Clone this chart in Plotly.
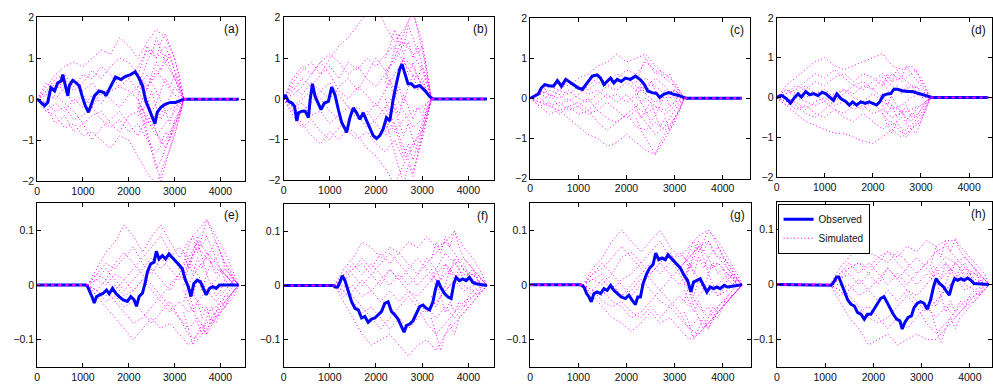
import plotly.graph_objects as go

# ---------------- tick labels ----------------
X_TICKS = [0, 1000, 2000, 3000, 4000]
X_TICK_TEXT = ["0", "1000", "2000", "3000", "4000"]
Y_TICKS_TOP = [-2, -1, 0, 1, 2]
Y_TICK_TEXT_TOP = ["\u22122", "\u22121", "0", "1", "2"]
Y_TICKS_BOT = [-0.1, 0, 0.1]
Y_TICK_TEXT_BOT = ["\u22120.1", "0", "0.1"]
PANEL_LABELS = ["(a)", "(b)", "(c)", "(d)", "(e)", "(f)", "(g)", "(h)"]

# ---------------- observed series ----------------
OBS_A_X = [0, 90, 160, 230, 300, 380, 450, 520, 560, 600, 670, 700, 775, 850, 920, 980, 1050, 1120, 1170, 1250,
           1350, 1460, 1500, 1570, 1640, 1710, 1830, 1930, 2040, 2140, 2225, 2300, 2370, 2440, 2500, 2570, 2620,
           2700, 2800, 2910, 3020, 3110, 3200, 4400]
OBS_A_Y = [0, -0.08, -0.16, -0.08, 0.28, 0.2, 0.4, 0.44, 0.6, 0.4, 0.08, 0.32, 0.46, 0.4, 0.32, 0.08, -0.16, -0.32,
           -0.16, 0.08, 0.2, 0.16, 0.08, 0.24, 0.4, 0.54, 0.48, 0.56, 0.6, 0.67, 0.51, 0.32, -0.04, -0.24, -0.4, -0.6,
           -0.32, -0.2, -0.12, -0.08, -0.08, -0.04, 0, 0]

OBS_B_X = [0, 36, 108, 180, 237, 287, 323, 395, 467, 539, 575, 625, 682, 754, 811, 883, 970, 1041, 1113, 1185,
           1257, 1314, 1364, 1436, 1508, 1580, 1652, 1723, 1795, 1867, 1939, 2011, 2082, 2154, 2226, 2298, 2370,
           2441, 2513, 2564, 2621, 2693, 2765, 2837, 2944, 3052, 3160, 3232, 4400]
OBS_B_Y = [0, 0.1, -0.06, -0.1, -0.18, -0.54, -0.34, -0.3, -0.3, -0.46, -0.02, 0.37, 0.06, -0.1, -0.26, -0.1,
           -0.06, 0.29, 0.1, -0.26, -0.58, -0.7, -0.82, -0.46, -0.22, -0.34, -0.5, -0.34, -0.54, -0.7, -0.9, -0.97,
           -0.9, -0.74, -0.46, -0.54, -0.02, 0.37, 0.73, 0.85, 0.61, 0.37, 0.37, 0.29, 0.33, 0.21, 0.06, 0, 0]

OBS_C_X = [0, 83, 166, 234, 303, 393, 483, 566, 648, 738, 841, 910, 993, 1083, 1152, 1221, 1290, 1393, 1462, 1531,
           1600, 1669, 1738, 1807, 1890, 1979, 2083, 2186, 2290, 2372, 2441, 2531, 2621, 2690, 2772, 2876, 2979,
           3083, 3186, 3255, 4400]
OBS_C_Y = [0, 0.06, 0.1, 0.26, 0.34, 0.31, 0.3, 0.44, 0.3, 0.47, 0.38, 0.34, 0.26, 0.22, 0.34, 0.46, 0.55, 0.58,
           0.5, 0.34, 0.42, 0.5, 0.38, 0.47, 0.42, 0.5, 0.47, 0.55, 0.46, 0.34, 0.18, 0.14, 0.12, 0.02, 0.1, 0.14,
           0.1, 0.07, 0.02, 0, 0]

OBS_D_X = [0, 103, 206, 289, 378, 447, 515, 605, 687, 770, 859, 948, 1017, 1100, 1182, 1251, 1340, 1430, 1512, 1581,
           1663, 1753, 1842, 1924, 2007, 2076, 2144, 2213, 2302, 2371, 2440, 2509, 2612, 2715, 2818, 2942, 3058,
           3162, 3230, 4400]
OBS_D_Y = [0, 0.05, -0.03, -0.14, 0.01, 0.09, 0.01, 0.15, 0.07, 0.1, 0.05, 0.13, 0.1, 0.01, -0.07, 0.09, -0.03,
           -0.09, -0.19, -0.11, -0.19, -0.11, -0.15, -0.11, -0.15, -0.19, -0.11, 0.05, 0.09, 0.1, 0.21, 0.21, 0.17,
           0.15, 0.15, 0.1, 0.07, 0.02, 0, 0]

OBS_E_X = [0, 1065, 1101, 1152, 1210, 1246, 1297, 1370, 1442, 1514, 1572, 1645, 1717, 1790, 1877, 1971, 2043, 2116,
           2167, 2225, 2297, 2355, 2406, 2478, 2551, 2601, 2659, 2732, 2804, 2877, 2949, 3022, 3109, 3167, 3225,
           3297, 3355, 3420, 3493, 3565, 3638, 3688, 3761, 3833, 3906, 3978, 4072, 4400]
OBS_E_Y = [0, 0, -0.003, -0.012, -0.024, -0.033, -0.021, -0.018, -0.015, -0.009, -0.016, -0.006, -0.015, -0.021,
           -0.027, -0.03, -0.021, -0.027, -0.039, -0.021, -0.015, 0.003, 0.024, 0.039, 0.042, 0.062, 0.048, 0.054,
           0.048, 0.057, 0.051, 0.045, 0.036, 0.03, 0.012, -0.003, -0.021, 0.003, 0.009, 0.006, -0.009, -0.018,
           -0.006, -0.003, -0.006, 0, 0, 0]

OBS_F_X = [0, 1077, 1113, 1171, 1221, 1271, 1329, 1400, 1472, 1544, 1616, 1688, 1759, 1831, 1903, 1975, 2047, 2119,
           2190, 2262, 2334, 2406, 2477, 2549, 2607, 2657, 2729, 2801, 2873, 2944, 3016, 3088, 3160, 3232, 3282,
           3339, 3397, 3483, 3555, 3626, 3684, 3734, 3806, 3878, 3950, 4021, 4093, 4165, 4400]
OBS_F_Y = [0, 0, -0.003, -0.003, 0.006, 0.018, 0.009, -0.009, -0.03, -0.042, -0.045, -0.06, -0.057, -0.068, -0.062,
           -0.06, -0.054, -0.048, -0.033, -0.03, -0.048, -0.054, -0.062, -0.074, -0.086, -0.074, -0.071, -0.065,
           -0.051, -0.039, -0.036, -0.042, -0.045, -0.03, -0.009, 0.009, -0.003, -0.015, -0.021, -0.024, 0.003,
           0.015, 0.009, 0.012, 0.009, 0.015, 0.006, 0.003, 0]

OBS_G_X = [0, 1048, 1117, 1172, 1221, 1269, 1324, 1393, 1462, 1531, 1600, 1669, 1738, 1807, 1890, 1979, 2048, 2117,
           2186, 2234, 2290, 2345, 2414, 2483, 2552, 2607, 2669, 2738, 2807, 2862, 2924, 2993, 3062, 3117, 3186,
           3269, 3338, 3393, 3462, 3531, 3600, 3669, 3738, 3807, 3876, 3945, 4028, 4097, 4400]
OBS_G_Y = [0, 0, -0.004, -0.016, -0.022, -0.031, -0.016, -0.013, -0.016, -0.007, -0.01, -0.001, -0.01, -0.016,
           -0.022, -0.025, -0.019, -0.028, -0.036, -0.022, -0.022, 0.002, 0.019, 0.031, 0.037, 0.058, 0.046, 0.049,
           0.046, 0.055, 0.049, 0.043, 0.037, 0.031, 0.019, 0.008, -0.013, 0.005, 0.008, 0.011, -0.001, -0.013,
           -0.004, -0.007, -0.004, -0.007, -0.001, -0.004, 0]

OBS_H_X = [0, 1080, 1128, 1183, 1238, 1285, 1340, 1402, 1470, 1538, 1607, 1675, 1744, 1812, 1880, 1949, 2017, 2085,
           2154, 2222, 2277, 2345, 2414, 2482, 2550, 2598, 2653, 2721, 2790, 2844, 2913, 2981, 3050, 3118, 3186,
           3248, 3303, 3371, 3453, 3521, 3576, 3631, 3685, 3747, 3815, 3884, 3952, 4021, 4089, 4400]
OBS_H_Y = [0, 0, -0.001, 0.005, 0.014, 0.014, 0.002, -0.01, -0.028, -0.036, -0.039, -0.051, -0.054, -0.063, -0.054,
           -0.054, -0.045, -0.034, -0.025, -0.022, -0.031, -0.045, -0.054, -0.063, -0.066, -0.081, -0.069, -0.06,
           -0.057, -0.042, -0.034, -0.031, -0.034, -0.045, -0.028, -0.004, 0.011, 0.002, -0.004, -0.013, -0.019,
           -0.001, 0.011, 0.008, 0.011, 0.008, 0.012, 0.008, 0.002, 0]

# ---------------- simulated series ----------------
SIM_X_TOP = [0, 200, 400, 600, 800, 1000, 1200, 1400, 1600, 1800, 2000, 2200, 2400, 2600, 2800, 3000, 3200]
SIM_X_BOT = [1100, 1300, 1500, 1700, 1900, 2100, 2300, 2500, 2700, 2900, 3100, 3300, 3500, 3700, 3900, 4100, 4300, 4400]
DENSE_X_TOP = [2200, 2300, 2400, 2500, 2600, 2700, 2800, 2900, 3000, 3100, 3200]
DENSE_X_BOT = [3200, 3300, 3400, 3500, 3600, 3700, 3800, 3900, 4000, 4100, 4200, 4300, 4400]
FLAT_X_TOP = [3200, 4400]
FLAT_X_BOT = [0, 1100]

SIM_A = [
    [0, 0.3, 0.6, 0.8, 0.9, 0.8, 1.0, 1.2, 1.1, 1.5, 1.3, 1.0, 1.4, 1.7, 1.5, 1.0, 0],
    [0, -0.3, -0.4, -0.7, -0.6, -0.9, -0.8, -1.0, -1.2, -0.9, -1.0, -1.4, -1.8, -2.1, -1.5, -0.9, 0],
    [0, 0.2, 0.0, 0.3, 0.5, 0.2, 0.4, 0.1, 0.3, 0.6, 0.5, 0.8, 1.2, 1.0, 1.3, 0.7, 0],
    [0, -0.1, -0.3, -0.2, -0.5, -0.4, -0.2, -0.5, -0.7, -0.5, -0.8, -0.6, -1.0, -1.3, -1.0, -0.6, 0],
    [0, 0.4, 0.2, 0.5, 0.2, 0.4, 0.7, 0.5, 0.8, 1.0, 0.9, 0.6, 0.3, 0.6, 0.9, 0.5, 0],
    [0, -0.2, -0.6, -0.4, -0.8, -0.6, -1.0, -0.7, -0.5, -0.3, -0.6, -0.9, -0.4, -0.8, -1.2, -0.7, 0],
    [0, 0.1, 0.4, 0.2, -0.1, 0.1, -0.2, 0.2, 0.0, -0.2, 0.1, 0.3, 0.6, 0.2, -0.3, -0.2, 0],
    [0, -0.3, -0.1, -0.3, 0.0, -0.2, 0.1, -0.1, 0.2, 0.3, 0.2, 0.0, -0.5, -0.9, -0.6, -0.3, 0],
    [0, 0.2, 0.5, 0.6, 0.3, 0.6, 0.5, 0.8, 0.6, 0.3, 0.5, 0.2, -0.2, -0.5, -0.2, 0.3, 0],
    [0, -0.1, 0.1, -0.1, -0.3, -0.6, -0.4, -0.3, -0.6, -0.8, -0.4, -0.3, 0.3, 0.7, 0.4, 0.1, 0],
]
SIM_B = [
    [0, 0.4, 0.7, 0.9, 0.6, 1.0, 1.3, 1.5, 1.8, 2.1, 2.3, 1.8, 1.4, 1.7, 2.1, 1.4, 0],
    [0, -0.3, -0.6, -0.9, -1.1, -0.8, -1.0, -0.7, -0.9, -1.2, -1.4, -1.7, -2.1, -1.6, -1.2, -0.6, 0],
    [0, 0.2, 0.5, 0.3, 0.6, 0.8, 0.5, 0.9, 0.7, 1.0, 0.8, 1.1, 1.3, 0.9, 0.6, 0.4, 0],
    [0, -0.2, -0.1, -0.4, -0.3, -0.6, -0.4, -0.2, -0.5, -0.3, -0.6, -0.9, -0.6, -1.2, -1.8, -1.0, 0],
    [0, 0.3, 0.1, 0.4, 0.2, 0.0, 0.3, 0.5, 0.2, 0.6, 1.0, 0.7, 0.9, 1.4, 1.1, 0.7, 0],
    [0, -0.4, -0.7, -0.5, -0.8, -1.0, -0.7, -0.5, -0.2, -0.4, -0.1, -0.4, -0.8, -0.5, -0.3, -0.2, 0],
    [0, 0.1, 0.3, 0.6, 0.9, 0.6, 0.2, 0.0, 0.3, 0.1, -0.2, 0.2, 0.6, 1.0, 0.8, 0.3, 0],
    [0, -0.1, -0.3, -0.1, 0.2, 0.4, 0.1, -0.2, -0.4, -0.7, -0.5, -0.2, 0.1, -0.3, -0.7, -0.5, 0],
    [0, 0.5, 0.8, 0.6, 0.9, 1.1, 0.9, 0.6, 0.8, 0.5, 0.3, 0.6, 1.0, 1.6, 2.2, 1.2, 0],
    [0, -0.2, 0.0, 0.2, 0.0, -0.3, -0.5, -0.8, -1.0, -0.8, -1.1, -1.3, -1.0, -1.5, -1.1, -0.8, 0],
]
SIM_C = [
    [0, 0.2, 0.3, 0.4, 0.3, 0.5, 0.6, 0.8, 0.9, 1.1, 0.9, 1.0, 1.1, 0.8, 0.6, 0.4, 0],
    [0, -0.2, -0.4, -0.3, -0.5, -0.7, -0.9, -1.0, -1.2, -1.1, -0.9, -1.1, -1.3, -1.4, -1.0, -0.6, 0],
    [0, 0.1, 0.0, 0.2, 0.1, 0.3, 0.2, 0.4, 0.3, 0.5, 0.7, 0.6, 0.9, 0.7, 0.5, 0.3, 0],
    [0, -0.1, -0.2, -0.1, -0.3, -0.2, -0.4, -0.3, -0.5, -0.6, -0.4, -0.7, -0.8, -0.6, -0.8, -0.5, 0],
    [0, 0.2, 0.1, 0.0, 0.2, 0.0, -0.1, 0.1, 0.3, 0.2, 0.4, 0.2, 0.5, 0.3, 0.1, 0.2, 0],
    [0, -0.1, 0.1, -0.2, 0.0, -0.2, 0.0, -0.3, -0.1, -0.3, -0.5, -0.3, -0.6, -0.9, -0.7, -0.3, 0],
    [0, 0.0, -0.2, -0.3, -0.2, -0.4, -0.3, -0.6, -0.8, -0.6, -0.4, -0.2, 0.0, -0.2, -0.4, -0.2, 0],
    [0, 0.1, 0.3, 0.2, 0.4, 0.3, 0.1, 0.2, 0.0, 0.1, -0.1, 0.1, 0.3, 0.5, 0.3, 0.0, 0],
    [0, -0.2, -0.1, -0.4, -0.2, -0.1, -0.3, -0.1, 0.1, -0.1, 0.1, -0.2, -0.4, -0.2, -0.3, -0.1, 0],
    [0, 0.1, 0.2, 0.1, -0.1, 0.1, 0.3, 0.5, 0.4, 0.6, 0.5, 0.3, 0.1, -0.1, 0.1, 0.2, 0],
]
SIM_D = [
    [0, 0.3, 0.5, 0.7, 0.9, 1.0, 0.8, 0.7, 0.8, 0.9, 1.0, 1.1, 0.8, 0.7, 0.8, 0.5, 0],
    [0, -0.2, -0.4, -0.6, -0.7, -0.8, -0.9, -0.9, -1.0, -1.1, -1.15, -1.0, -0.8, -1.0, -0.8, -0.5, 0],
    [0, 0.1, 0.3, 0.2, 0.4, 0.3, 0.5, 0.6, 0.4, 0.6, 0.5, 0.3, 0.6, 0.4, 0.6, 0.3, 0],
    [0, -0.1, -0.3, -0.2, -0.4, -0.5, -0.3, -0.5, -0.6, -0.4, -0.6, -0.8, -0.6, -0.9, -0.7, -0.4, 0],
    [0, 0.2, 0.0, 0.3, 0.1, 0.2, 0.0, 0.2, 0.1, 0.3, 0.2, 0.5, 0.3, 0.1, 0.3, 0.2, 0],
    [0, -0.2, -0.1, -0.3, -0.1, 0.0, -0.2, -0.1, -0.3, -0.2, -0.4, -0.3, -0.5, -0.4, -0.3, -0.2, 0],
    [0, 0.1, 0.2, 0.4, 0.6, 0.5, 0.7, 0.5, 0.3, 0.4, 0.2, 0.0, -0.2, -0.4, -0.6, -0.3, 0],
    [0, -0.1, 0.0, -0.1, -0.2, -0.1, 0.1, 0.2, 0.0, -0.1, 0.1, -0.1, -0.3, -0.2, 0.0, 0.1, 0],
    [0, 0.0, -0.2, -0.4, -0.5, -0.3, -0.1, 0.1, 0.3, 0.2, 0.4, 0.6, 0.4, 0.5, 0.3, 0.0, 0],
    [0, 0.2, 0.1, 0.0, 0.1, -0.1, -0.3, -0.4, -0.2, -0.3, -0.1, -0.4, -0.7, -0.5, -0.8, -0.6, 0],
]
SIM_E = [
    [0, 0.03, 0.06, 0.08, 0.11, 0.09, 0.06, 0.09, 0.11, 0.08, 0.05, 0.08, 0.10, 0.12, 0.09, 0.06, 0.02, 0],
    [0, -0.02, -0.04, -0.06, -0.08, -0.10, -0.08, -0.06, -0.08, -0.07, -0.09, -0.11, -0.09, -0.07, -0.05, -0.03, -0.01, 0],
    [0, 0.02, 0.04, 0.03, 0.05, 0.07, 0.04, 0.02, 0.05, 0.03, 0.01, 0.04, 0.07, 0.05, 0.08, 0.04, 0.01, 0],
    [0, -0.01, -0.03, -0.02, -0.04, -0.03, -0.05, -0.07, -0.05, -0.03, -0.06, -0.08, -0.06, -0.09, -0.06, -0.04, -0.02, 0],
    [0, 0.01, 0.00, 0.02, 0.01, -0.01, 0.01, 0.03, 0.01, -0.01, 0.02, 0.00, 0.03, 0.05, 0.03, 0.02, 0.00, 0],
    [0, -0.01, -0.02, 0.00, -0.02, -0.01, 0.01, -0.01, -0.03, -0.05, -0.03, -0.05, -0.03, -0.01, -0.03, -0.01, 0.01, 0],
    [0, 0.02, 0.01, 0.04, 0.06, 0.04, 0.02, 0.00, -0.02, 0.00, 0.02, 0.05, 0.08, 0.06, 0.04, 0.02, 0.00, 0],
    [0, -0.01, 0.01, -0.01, 0.01, 0.03, 0.05, 0.07, 0.09, 0.06, 0.03, 0.00, -0.03, -0.05, -0.04, -0.02, 0.00, 0],
    [0, 0.01, 0.03, 0.01, -0.01, 0.01, 0.03, 0.05, 0.03, 0.05, 0.07, 0.05, 0.02, -0.01, 0.01, 0.03, 0.01, 0],
    [0, -0.02, -0.01, -0.03, -0.05, -0.07, -0.06, -0.04, -0.02, -0.04, -0.06, -0.09, -0.10, -0.08, -0.06, -0.04, -0.01, 0],
]
SIM_F = [
    [0, 0.03, 0.05, 0.08, 0.07, 0.05, 0.07, 0.06, 0.08, 0.07, 0.09, 0.07, 0.08, 0.10, 0.07, 0.05, 0.02, 0],
    [0, -0.03, -0.06, -0.09, -0.11, -0.10, -0.09, -0.11, -0.13, -0.11, -0.10, -0.12, -0.09, -0.07, -0.05, -0.03, -0.01, 0],
    [0, 0.02, 0.03, 0.05, 0.03, 0.06, 0.04, 0.06, 0.04, 0.02, 0.05, 0.03, 0.06, 0.04, 0.05, 0.03, 0.01, 0],
    [0, -0.01, -0.03, -0.05, -0.04, -0.06, -0.08, -0.06, -0.08, -0.06, -0.04, -0.06, -0.04, -0.06, -0.04, -0.02, -0.01, 0],
    [0, 0.01, 0.02, 0.00, 0.02, 0.00, 0.03, 0.01, 0.03, 0.05, 0.03, 0.01, -0.01, 0.01, 0.03, 0.01, 0.00, 0],
    [0, -0.01, 0.00, -0.02, -0.01, -0.03, -0.01, -0.03, -0.01, -0.03, -0.05, -0.03, -0.01, 0.01, -0.01, 0.00, 0.01, 0],
    [0, 0.02, 0.04, 0.02, 0.04, 0.02, 0.00, 0.02, 0.00, 0.02, 0.04, 0.06, 0.08, 0.06, 0.03, 0.02, 0.00, 0],
    [0, 0.00, -0.02, -0.04, -0.06, -0.08, -0.06, -0.04, -0.02, -0.04, -0.07, -0.09, -0.07, -0.05, -0.03, -0.02, 0.00, 0],
    [0, 0.01, 0.03, 0.04, 0.02, 0.04, 0.06, 0.04, 0.02, 0.00, 0.02, 0.00, 0.02, 0.04, 0.02, 0.02, 0.01, 0],
    [0, -0.02, -0.01, 0.01, -0.01, 0.01, 0.03, 0.01, -0.01, -0.02, 0.00, 0.02, 0.04, 0.02, 0.00, -0.01, 0.00, 0],
]
SIM_G = [
    [0, 0.03, 0.05, 0.08, 0.10, 0.08, 0.06, 0.08, 0.10, 0.07, 0.05, 0.07, 0.09, 0.10, 0.08, 0.05, 0.02, 0],
    [0, -0.02, -0.04, -0.06, -0.07, -0.085, -0.07, -0.05, -0.07, -0.06, -0.08, -0.10, -0.09, -0.07, -0.05, -0.03, -0.01, 0],
    [0, 0.02, 0.04, 0.02, 0.05, 0.06, 0.04, 0.02, 0.04, 0.06, 0.03, 0.05, 0.07, 0.05, 0.07, 0.04, 0.01, 0],
    [0, -0.01, -0.03, -0.04, -0.03, -0.05, -0.06, -0.04, -0.06, -0.04, -0.06, -0.08, -0.06, -0.08, -0.05, -0.03, -0.01, 0],
    [0, 0.01, 0.00, 0.02, 0.00, -0.02, 0.00, 0.02, 0.04, 0.02, 0.00, 0.03, 0.05, 0.03, 0.04, 0.02, 0.00, 0],
    [0, -0.01, -0.02, 0.00, -0.02, -0.01, 0.01, -0.01, -0.03, -0.04, -0.02, -0.04, -0.02, 0.00, -0.02, -0.01, 0.01, 0],
    [0, 0.02, 0.03, 0.05, 0.07, 0.05, 0.03, 0.01, -0.01, 0.01, 0.03, 0.05, 0.07, 0.08, 0.05, 0.03, 0.00, 0],
    [0, -0.01, 0.01, -0.01, 0.01, 0.02, 0.04, 0.06, 0.08, 0.05, 0.02, -0.01, -0.04, -0.06, -0.04, -0.02, 0.00, 0],
    [0, 0.01, 0.02, 0.00, -0.02, 0.00, 0.02, 0.04, 0.02, 0.04, 0.06, 0.04, 0.01, -0.02, 0.00, 0.02, 0.01, 0],
    [0, -0.02, -0.01, -0.03, -0.04, -0.06, -0.05, -0.03, -0.01, -0.03, -0.05, -0.08, -0.09, -0.07, -0.05, -0.03, -0.01, 0],
]
SIM_H = [
    [0, 0.03, 0.05, 0.07, 0.06, 0.05, 0.06, 0.05, 0.07, 0.06, 0.08, 0.07, 0.08, 0.08, 0.06, 0.04, 0.02, 0],
    [0, -0.03, -0.06, -0.08, -0.11, -0.10, -0.09, -0.11, -0.10, -0.09, -0.10, -0.10, -0.08, -0.06, -0.04, -0.03, -0.01, 0],
    [0, 0.02, 0.03, 0.04, 0.03, 0.05, 0.04, 0.06, 0.04, 0.02, 0.04, 0.03, 0.05, 0.04, 0.05, 0.03, 0.01, 0],
    [0, -0.01, -0.03, -0.05, -0.04, -0.06, -0.08, -0.06, -0.08, -0.06, -0.04, -0.06, -0.04, -0.06, -0.04, -0.02, -0.01, 0],
    [0, 0.01, 0.02, 0.00, 0.02, 0.00, 0.03, 0.01, 0.03, 0.05, 0.03, 0.01, -0.01, 0.01, 0.03, 0.01, 0.00, 0],
    [0, -0.01, 0.00, -0.02, -0.01, -0.03, -0.01, -0.03, -0.01, -0.03, -0.05, -0.03, -0.01, 0.01, -0.01, 0.00, 0.01, 0],
    [0, 0.02, 0.04, 0.02, 0.04, 0.02, 0.00, 0.02, 0.00, 0.02, 0.04, 0.06, 0.07, 0.05, 0.03, 0.02, 0.00, 0],
    [0, 0.00, -0.02, -0.04, -0.06, -0.07, -0.06, -0.04, -0.02, -0.04, -0.07, -0.09, -0.07, -0.05, -0.03, -0.02, 0.00, 0],
    [0, 0.01, 0.03, 0.04, 0.02, 0.04, 0.06, 0.04, 0.02, 0.00, 0.02, 0.00, 0.02, 0.04, 0.02, 0.02, 0.01, 0],
    [0, -0.02, -0.01, 0.01, -0.01, 0.01, 0.03, 0.01, -0.01, -0.02, 0.00, 0.02, 0.04, 0.02, 0.00, -0.01, 0.00, 0],
]

# extra simulated runs in the densely sampled late segments
DENSE_A = [
    [0.3, 0.6, 0.9, 1.2, 1.0, 1.4, 1.6, 1.3, 1.0, 0.6, 0],
    [-0.2, -0.5, -0.9, -1.3, -1.7, -1.5, -1.2, -0.9, -0.5, -0.3, 0],
    [0.1, 0.4, 0.2, 0.6, 0.9, 0.7, 1.1, 0.8, 0.5, 0.3, 0],
    [-0.4, -0.2, -0.6, -0.4, -0.8, -1.1, -0.8, -1.0, -0.6, -0.4, 0],
    [0.5, 0.3, 0.0, -0.3, -0.1, 0.2, 0.5, 0.3, 0.6, 0.2, 0],
    [0.0, -0.3, -0.1, 0.2, -0.2, -0.5, -0.3, -0.6, -0.2, -0.1, 0],
    [0.6, 0.9, 1.3, 1.1, 1.5, 1.2, 0.9, 1.1, 0.7, 0.4, 0],
    [-0.1, -0.4, -0.8, -1.2, -1.6, -2.0, -1.6, -1.2, -0.8, -0.5, 0],
]
DENSE_B = [
    [0.4, 0.8, 1.2, 1.6, 1.3, 1.8, 1.5, 1.1, 1.3, 0.7, 0],
    [-0.5, -0.9, -1.3, -1.7, -2.1, -1.6, -1.9, -1.4, -0.9, -0.5, 0],
    [0.2, 0.5, 0.2, 0.7, 1.0, 0.6, 0.9, 0.5, 0.8, 0.4, 0],
    [-0.2, -0.5, -0.2, -0.6, -0.9, -0.6, -1.0, -1.3, -0.8, -0.4, 0],
    [0.7, 0.4, 0.0, 0.3, -0.1, 0.3, 0.6, 0.2, 0.5, 0.2, 0],
    [-0.8, -0.5, -0.1, -0.4, 0.1, -0.2, -0.5, -0.2, -0.4, -0.1, 0],
    [1.0, 1.3, 1.7, 1.4, 1.1, 1.4, 1.0, 1.3, 0.8, 0.5, 0],
    [0.0, -0.3, -0.7, -1.0, -1.4, -1.1, -1.5, -1.1, -0.7, -0.3, 0],
]
DENSE_C = [
    [0.4, 0.7, 1.0, 0.8, 0.6, 0.7, 0.5, 0.6, 0.3, 0.2, 0],
    [-0.5, -0.8, -1.0, -1.2, -1.4, -1.1, -0.9, -0.7, -0.5, -0.3, 0],
    [0.0, 0.3, 0.1, 0.4, 0.2, -0.1, 0.2, 0.0, 0.2, 0.1, 0],
    [-0.2, -0.5, -0.3, -0.6, -0.4, -0.7, -0.5, -0.8, -0.5, -0.3, 0],
    [0.2, -0.1, -0.3, -0.1, -0.4, -0.2, 0.1, -0.2, -0.1, 0.1, 0],
]
DENSE_D = [
    [0.3, 0.6, 0.4, 0.7, 0.5, 0.8, 0.6, 0.7, 0.4, 0.2, 0],
    [-0.4, -0.7, -0.9, -0.6, -0.8, -1.0, -0.8, -0.9, -0.6, -0.3, 0],
    [0.1, -0.2, 0.1, 0.3, 0.1, 0.3, 0.1, 0.3, 0.1, 0.1, 0],
    [-0.2, -0.4, -0.2, -0.5, -0.3, -0.6, -0.4, -0.5, -0.3, -0.1, 0],
    [0.4, 0.2, 0.0, -0.2, -0.4, -0.2, -0.5, -0.3, -0.2, -0.1, 0],
]
DENSE_E = [
    [0.04, 0.07, 0.09, 0.06, 0.09, 0.12, 0.10, 0.08, 0.06, 0.04, 0.03, 0.01, 0],
    [-0.05, -0.08, -0.11, -0.09, -0.07, -0.09, -0.06, -0.07, -0.05, -0.03, -0.02, -0.01, 0],
    [0.01, 0.04, 0.02, 0.05, 0.03, 0.06, 0.04, 0.05, 0.03, 0.02, 0.01, 0.00, 0],
    [-0.01, -0.03, -0.05, -0.03, -0.06, -0.04, -0.07, -0.05, -0.03, -0.04, -0.02, -0.01, 0],
    [0.06, 0.03, 0.05, 0.08, 0.05, 0.02, 0.04, 0.02, 0.03, 0.01, 0.02, 0.00, 0],
    [-0.03, 0.00, -0.02, 0.01, -0.01, 0.02, 0.00, -0.02, -0.01, 0.01, 0.00, 0.01, 0],
    [0.02, -0.01, -0.04, -0.07, -0.09, -0.06, -0.04, -0.06, -0.04, -0.02, -0.02, -0.01, 0],
    [0.00, 0.03, 0.06, 0.09, 0.07, 0.09, 0.07, 0.05, 0.06, 0.03, 0.02, 0.01, 0],
]
DENSE_F = [
    [0.05, 0.08, 0.06, 0.09, 0.07, 0.10, 0.07, 0.05, 0.04, 0.03, 0.02, 0.01, 0],
    [-0.06, -0.09, -0.12, -0.09, -0.07, -0.09, -0.06, -0.05, -0.04, -0.03, -0.02, -0.01, 0],
    [0.01, 0.03, 0.01, 0.04, 0.02, 0.05, 0.03, 0.04, 0.02, 0.03, 0.01, 0.00, 0],
    [-0.02, -0.04, -0.02, -0.05, -0.03, -0.05, -0.03, -0.04, -0.02, -0.01, -0.02, 0.00, 0],
    [0.03, 0.01, -0.02, 0.00, 0.03, 0.01, 0.03, 0.01, 0.02, 0.00, 0.01, 0.00, 0],
]
DENSE_G = [
    [0.04, 0.06, 0.08, 0.06, 0.08, 0.10, 0.09, 0.07, 0.05, 0.04, 0.03, 0.01, 0],
    [-0.05, -0.07, -0.10, -0.08, -0.06, -0.08, -0.06, -0.06, -0.04, -0.03, -0.02, -0.01, 0],
    [0.01, 0.04, 0.02, 0.05, 0.03, 0.05, 0.03, 0.04, 0.03, 0.02, 0.01, 0.00, 0],
    [-0.01, -0.03, -0.05, -0.03, -0.05, -0.04, -0.06, -0.04, -0.03, -0.03, -0.02, -0.01, 0],
    [0.05, 0.03, 0.05, 0.07, 0.05, 0.02, 0.04, 0.02, 0.03, 0.01, 0.02, 0.00, 0],
    [-0.03, 0.00, -0.02, 0.01, -0.01, 0.02, 0.00, -0.02, -0.01, 0.01, 0.00, 0.01, 0],
    [0.02, -0.01, -0.04, -0.06, -0.08, -0.06, -0.04, -0.05, -0.04, -0.02, -0.02, -0.01, 0],
    [0.00, 0.03, 0.06, 0.08, 0.06, 0.08, 0.06, 0.05, 0.05, 0.03, 0.02, 0.01, 0],
]
DENSE_H = [
    [0.04, 0.07, 0.05, 0.08, 0.06, 0.085, 0.06, 0.05, 0.04, 0.03, 0.02, 0.01, 0],
    [-0.05, -0.08, -0.105, -0.08, -0.06, -0.08, -0.06, -0.05, -0.04, -0.03, -0.02, -0.01, 0],
    [0.01, 0.03, 0.01, 0.04, 0.02, 0.04, 0.03, 0.04, 0.02, 0.03, 0.01, 0.00, 0],
    [-0.02, -0.04, -0.02, -0.05, -0.03, -0.05, -0.03, -0.04, -0.02, -0.01, -0.02, 0.00, 0],
    [0.03, 0.01, -0.02, 0.00, 0.03, 0.01, 0.03, 0.01, 0.02, 0.00, 0.01, 0.00, 0],
]

# ---------------- assemble ----------------
W, H = 993, 392
# left, right, top, bottom (px), x-axis max
GEOM = [
    (34.3, 242.7, 11.7, 180.5, 4530),
    (281.7, 493.3, 11.7, 180.0, 4560),
    (529.3, 750.0, 12.3, 178.0, 4565),
    (776.7, 993.0, 12.3, 176.5, 4476),
    (34.3, 242.7, 203.5, 372.3, 4530),
    (281.7, 493.3, 204.3, 372.3, 4560),
    (529.3, 751.0, 203.0, 372.3, 4585),
    (777.0, 993.0, 202.5, 372.3, 4460),
]
OBS = [(OBS_A_X, OBS_A_Y), (OBS_B_X, OBS_B_Y), (OBS_C_X, OBS_C_Y), (OBS_D_X, OBS_D_Y),
       (OBS_E_X, OBS_E_Y), (OBS_F_X, OBS_F_Y), (OBS_G_X, OBS_G_Y), (OBS_H_X, OBS_H_Y)]
SIMS = [SIM_A, SIM_B, SIM_C, SIM_D, SIM_E, SIM_F, SIM_G, SIM_H]
DENSE = [DENSE_A, DENSE_B, DENSE_C, DENSE_D, DENSE_E, DENSE_F, DENSE_G, DENSE_H]

for ox, oy in OBS:
    assert len(ox) == len(oy)
for i in range(8):
    for p in SIMS[i]:
        assert len(p) == (len(SIM_X_TOP) if i < 4 else len(SIM_X_BOT))
    for p in DENSE[i]:
        assert len(p) == (len(DENSE_X_TOP) if i < 4 else len(DENSE_X_BOT))

BLUE = "rgb(0,0,255)"
MAG = "rgb(255,0,255)"
FONT = "Liberation Sans, Arial, Helvetica, sans-serif"
SIM_LINE = dict(color=MAG, width=1, dash="1px,2.5px")

fig = go.Figure()
layout = dict(width=W, height=H, margin=dict(l=0, r=0, t=0, b=0),
              paper_bgcolor="white", plot_bgcolor="white", showlegend=True,
              font=dict(family=FONT, size=10.5, color="#111"))
annotations = []

for i in range(8):
    n = "" if i == 0 else str(i + 1)
    xa, ya = "x" + n, "y" + n
    left, right, top, bottom, xmax = GEOM[i]
    top_row = i < 4
    sx = SIM_X_TOP if top_row else SIM_X_BOT
    dx = DENSE_X_TOP if top_row else DENSE_X_BOT
    fx = FLAT_X_TOP if top_row else FLAT_X_BOT
    for j, path in enumerate(SIMS[i]):
        fig.add_trace(go.Scatter(
            x=sx, y=path, xaxis=xa, yaxis=ya, mode="lines", line=SIM_LINE,
            name="Simulated", legendrank=2,
            showlegend=(i == 7 and j == 0), hoverinfo="skip"))
    for path in DENSE[i]:
        fig.add_trace(go.Scatter(
            x=dx, y=path, xaxis=xa, yaxis=ya, mode="lines", line=SIM_LINE,
            showlegend=False, hoverinfo="skip"))
    ox, oy = OBS[i]
    fig.add_trace(go.Scatter(
        x=ox, y=oy, xaxis=xa, yaxis=ya, mode="lines",
        line=dict(color=BLUE, width=3), name="Observed", legendrank=1,
        showlegend=(i == 7), hoverinfo="skip"))
    fig.add_trace(go.Scatter(
        x=fx, y=[0, 0], xaxis=xa, yaxis=ya, mode="lines",
        line=dict(color=MAG, width=2.2, dash="3px,4px"),
        showlegend=False, hoverinfo="skip"))

    axis_common = dict(showline=True, linecolor="black", linewidth=1, mirror="ticks",
                       ticks="inside", ticklen=4, tickcolor="black", tickwidth=1,
                       showgrid=False, zeroline=False,
                       tickfont=dict(family=FONT, size=10.5, color="#111"))
    layout["xaxis" + n] = dict(domain=[left / W, right / W], range=[0, xmax], anchor=ya,
                               tickvals=X_TICKS, ticktext=X_TICK_TEXT, **axis_common)
    if top_row:
        layout["yaxis" + n] = dict(domain=[1 - bottom / H, 1 - top / H], range=[-2, 2], anchor=xa,
                                   tickvals=Y_TICKS_TOP, ticktext=Y_TICK_TEXT_TOP, **axis_common)
    else:
        layout["yaxis" + n] = dict(domain=[1 - bottom / H, 1 - top / H], range=[-0.15, 0.15], anchor=xa,
                                   tickvals=Y_TICKS_BOT, ticktext=Y_TICK_TEXT_BOT, **axis_common)
    annotations.append(dict(text=PANEL_LABELS[i], xref=xa + " domain", yref=ya + " domain",
                            x=1, y=1, xanchor="right", yanchor="top", xshift=-4, yshift=-3,
                            showarrow=False, font=dict(family=FONT, size=12, color="#111")))

layout["annotations"] = annotations
layout["legend"] = dict(x=777.7 / W, y=1 - 204 / H, xanchor="left", yanchor="top",
                        bgcolor="white", bordercolor="black", borderwidth=1,
                        font=dict(family=FONT, size=10, color="#111"),
                        itemwidth=30, tracegroupgap=0, traceorder="normal")
fig.update_layout(**layout)
fig.write_html("out.html", config={"displayModeBar": False, "staticPlot": True},
               post_script="document.body.style.margin='0';")
